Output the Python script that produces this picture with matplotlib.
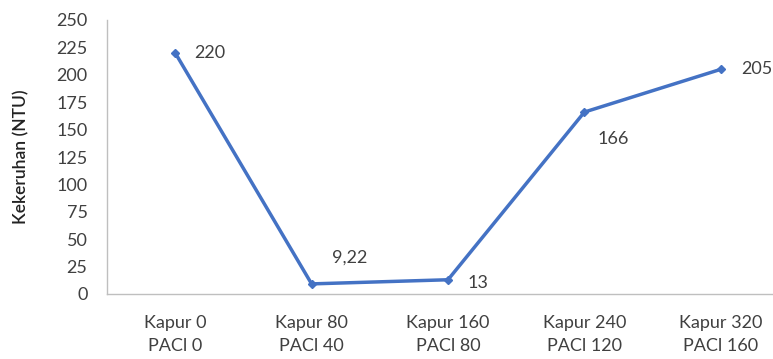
import matplotlib.pyplot as plt

# turbidity per lime / PACl dose
categories = ["Kapur 0\nPACl 0", "Kapur 80\nPACl 40", "Kapur 160\nPACl 80",
              "Kapur 240\nPACl 120", "Kapur 320\nPACl 160"]
turbidity = [220, 9.22, 13, 166, 205]
value_labels = ["220", "9,22", "13", "166", "205"]

# label offsets in points (dx, dy)
offsets = [(13.5, 0), (15, 19), (14, -2), (9.5, -19.5), (15, 0)]

plt.rcParams['font.family'] = ['Lato', 'DejaVu Sans']
txt = '#404040'

fig = plt.figure(figsize=(7.73, 3.59), dpi=100)
ax = fig.add_axes([107 / 773, (359 - 294) / 359, 682 / 773, 274 / 359])

x = list(range(len(categories)))
ax.plot(x, turbidity, color='#4472C4', lw=2.5, marker='D', ms=4.5, zorder=3)

for xi, yi, lab, (dx, dy) in zip(x, turbidity, value_labels, offsets):
    ax.annotate(lab, (xi, yi), xytext=(dx, dy), textcoords='offset points',
                ha='left', va='center', fontsize=13, color=txt)

ax.set_xlim(-0.5, 4.5)
ax.set_ylim(0, 250)
ax.set_yticks(range(0, 251, 25))
ax.set_xticks(x)
ax.set_xticklabels(categories, fontsize=13, color=txt, linespacing=1.55)
ax.tick_params(axis='y', length=0, pad=14, labelsize=13, labelcolor=txt)
ax.tick_params(axis='x', length=0, pad=15)

ax.set_ylabel("Kekeruhan (NTU)", fontsize=12.5, color='#222222', labelpad=19,
              fontweight='semibold')

for s in ['top', 'right']:
    ax.spines[s].set_visible(False)
for s in ['left', 'bottom']:
    ax.spines[s].set_color('#BFBFBF')
    ax.spines[s].set_linewidth(1)

fig.savefig('out.png', dpi=100)
